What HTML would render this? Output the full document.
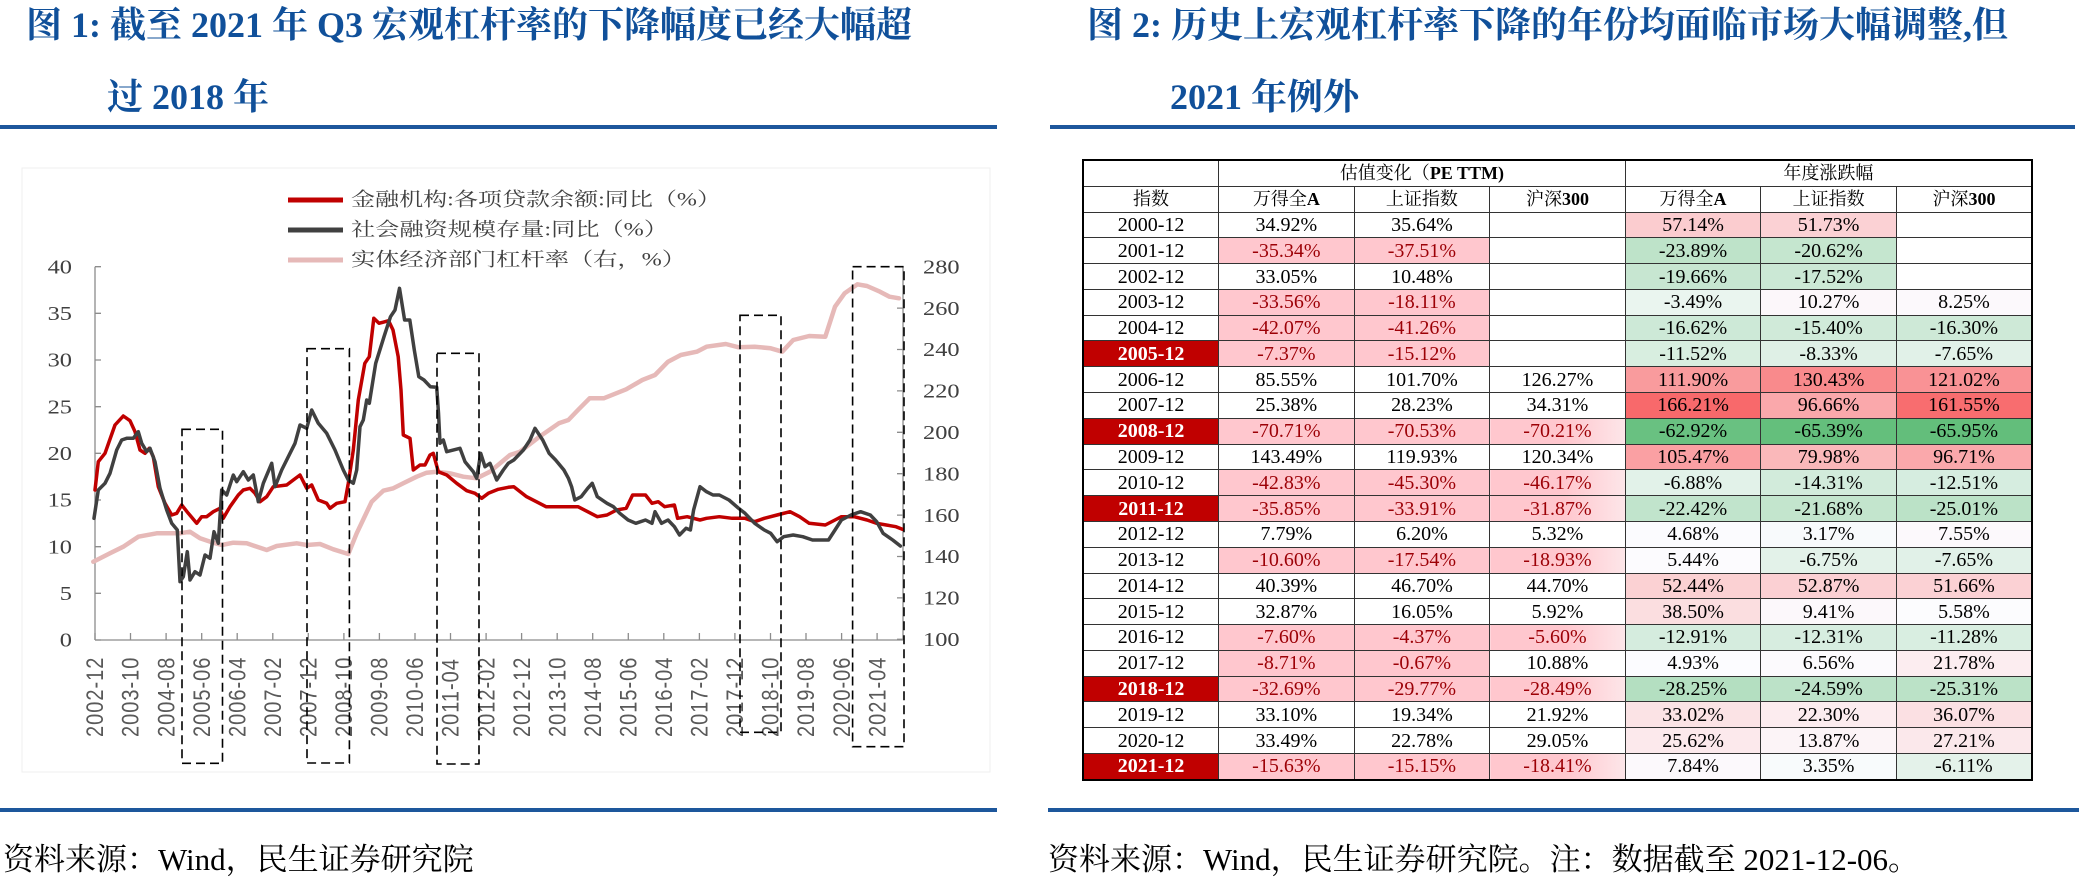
<!DOCTYPE html>
<html><head><meta charset="utf-8">
<style>
html,body{margin:0;padding:0;background:#fff;}
body{width:2079px;height:883px;position:relative;overflow:hidden;font-family:"Liberation Serif","Noto Serif CJK SC",serif;}
.t{position:absolute;white-space:nowrap;font-weight:bold;color:#10509a;font-size:36px;line-height:36px;font-family:"Liberation Serif","Noto Serif CJK SC",serif;}
.bl{position:absolute;background:#1d579c;height:4px;}
.ft{position:absolute;white-space:nowrap;font-size:31px;line-height:31px;color:#000;font-family:"Liberation Serif","Noto Serif CJK SC",serif;}
#tb{position:absolute;left:1082px;top:159px;width:951px;height:622px;border-collapse:collapse;table-layout:fixed;border:2px solid #000;}
#tb td{border:1px solid #333;padding:0;height:24px;text-align:center;vertical-align:middle;font-size:20px;line-height:20px;color:#000;white-space:nowrap;overflow:hidden;font-family:"Liberation Serif","Noto Serif CJK SC",serif;}
#tb tr.h td{font-size:18px;}
#tb td.hy{background:#c00000;color:#fff;font-weight:bold;}
#tb td.n{background:#ffc7ce;color:#9c0006;}
#tb td.ng{background:linear-gradient(to right,#ffc7ce 55%,#fde6e9 100%);color:#9c0006;}
</style></head>
<body>
<div class="t" style="left:26px;top:7px;">图 1: 截至 2021 年 Q3 宏观杠杆率的下降幅度已经大幅超</div>
<div class="t" style="left:107px;top:79px;">过 2018 年</div>
<div class="t" style="left:1087px;top:7px;">图 2: 历史上宏观杠杆率下降的年份均面临市场大幅调整,但</div>
<div class="t" style="left:1170px;top:79px;">2021 年例外</div>
<div class="bl" style="left:0;top:125px;width:997px;"></div>
<div class="bl" style="left:1050px;top:125px;width:1025px;"></div>
<div class="bl" style="left:0;top:808px;width:997px;"></div>
<div class="bl" style="left:1048px;top:808px;width:1031px;"></div>
<div class="ft" style="left:3px;top:844px;">资料来源：Wind，民生证券研究院</div>
<div class="ft" style="left:1048px;top:844px;">资料来源：Wind，民生证券研究院。注：数据截至 2021-12-06。</div>

<svg style="position:absolute;left:0;top:0;" width="1000" height="800" viewBox="0 0 1000 800">
<rect x="22" y="168" width="968" height="604" fill="none" stroke="#efefef" stroke-width="1"/>
<!-- legend -->
<line x1="288" y1="200" x2="343" y2="200" stroke="#c00000" stroke-width="5"/>
<line x1="288" y1="230" x2="343" y2="230" stroke="#404040" stroke-width="5"/>
<line x1="288" y1="260" x2="343" y2="260" stroke="#e6b9b8" stroke-width="5"/>
<g font-family="Liberation Serif, Noto Serif CJK SC, serif" font-size="19" fill="#404040" dominant-baseline="central">
<text x="351" y="200" textLength="370" lengthAdjust="spacingAndGlyphs">金融机构:各项贷款余额:同比（%）</text>
<text x="351" y="230" textLength="317" lengthAdjust="spacingAndGlyphs">社会融资规模存量:同比（%）</text>
<text x="351" y="260" textLength="335" lengthAdjust="spacingAndGlyphs">实体经济部门杠杆率（右，%）</text>
</g>
<!-- axes -->
<g stroke="#8c8c8c" stroke-width="1.3" fill="none">
<line x1="95" y1="266.7" x2="95" y2="640"/>
<line x1="903" y1="266.7" x2="903" y2="640"/>
<line x1="95" y1="640" x2="903" y2="640"/>
<path d="M95 640H101M95 593.3H101M95 546.7H101M95 500H101M95 453.3H101M95 406.7H101M95 360H101M95 313.3H101M95 266.7H101"/>
<path d="M897 639.3H903M897 597.9H903M897 556.5H903M897 515.1H903M897 473.7H903M897 432.3H903M897 390.9H903M897 349.5H903M897 308.1H903M897 266.7H903"/>
<path d="M95 633V640M130.5 633V640M166.1 633V640M201.7 633V640M237.2 633V640M272.8 633V640M308.3 633V640M343.9 633V640M379.4 633V640M415 633V640M450.5 633V640M486.1 633V640M521.6 633V640M557.2 633V640M592.7 633V640M628.3 633V640M663.8 633V640M699.4 633V640M734.9 633V640M770.5 633V640M806 633V640M841.6 633V640M877.1 633V640"/>
</g>
<!-- y labels -->
<g transform="scale(1.22,1)" font-family="Liberation Serif, serif" font-size="20" fill="#404040" dominant-baseline="central">
<g text-anchor="end">
<text x="59" y="640">0</text><text x="59" y="593.3">5</text><text x="59" y="546.7">10</text><text x="59" y="500">15</text><text x="59" y="453.3">20</text><text x="59" y="406.7">25</text><text x="59" y="360">30</text><text x="59" y="313.3">35</text><text x="59" y="266.7">40</text>
</g>
<g text-anchor="start">
<text x="756.6" y="639.3">100</text><text x="756.6" y="597.9">120</text><text x="756.6" y="556.5">140</text><text x="756.6" y="515.1">160</text><text x="756.6" y="473.7">180</text><text x="756.6" y="432.3">200</text><text x="756.6" y="390.9">220</text><text x="756.6" y="349.5">240</text><text x="756.6" y="308.1">260</text><text x="756.6" y="266.7">280</text>
</g>
</g>
<!-- x labels -->
<g font-family="Liberation Sans, sans-serif" font-size="20" fill="#595959" letter-spacing="1" dominant-baseline="central">
<text transform="translate(95,737) rotate(-90) scale(1,1.22)">2002-12</text>
<text transform="translate(130.5,737) rotate(-90) scale(1,1.22)">2003-10</text>
<text transform="translate(166.1,737) rotate(-90) scale(1,1.22)">2004-08</text>
<text transform="translate(201.7,737) rotate(-90) scale(1,1.22)">2005-06</text>
<text transform="translate(237.2,737) rotate(-90) scale(1,1.22)">2006-04</text>
<text transform="translate(272.8,737) rotate(-90) scale(1,1.22)">2007-02</text>
<text transform="translate(308.3,737) rotate(-90) scale(1,1.22)">2007-12</text>
<text transform="translate(343.9,737) rotate(-90) scale(1,1.22)">2008-10</text>
<text transform="translate(379.4,737) rotate(-90) scale(1,1.22)">2009-08</text>
<text transform="translate(415,737) rotate(-90) scale(1,1.22)">2010-06</text>
<text transform="translate(450.5,737) rotate(-90) scale(1,1.22)">2011-04</text>
<text transform="translate(486.1,737) rotate(-90) scale(1,1.22)">2012-02</text>
<text transform="translate(521.6,737) rotate(-90) scale(1,1.22)">2012-12</text>
<text transform="translate(557.2,737) rotate(-90) scale(1,1.22)">2013-10</text>
<text transform="translate(592.7,737) rotate(-90) scale(1,1.22)">2014-08</text>
<text transform="translate(628.3,737) rotate(-90) scale(1,1.22)">2015-06</text>
<text transform="translate(663.8,737) rotate(-90) scale(1,1.22)">2016-04</text>
<text transform="translate(699.4,737) rotate(-90) scale(1,1.22)">2017-02</text>
<text transform="translate(734.9,737) rotate(-90) scale(1,1.22)">2017-12</text>
<text transform="translate(770.5,737) rotate(-90) scale(1,1.22)">2018-10</text>
<text transform="translate(806,737) rotate(-90) scale(1,1.22)">2019-08</text>
<text transform="translate(841.6,737) rotate(-90) scale(1,1.22)">2020-06</text>
<text transform="translate(877.1,737) rotate(-90) scale(1,1.22)">2021-04</text>
</g>
<!-- series -->
<g fill="none" stroke-linejoin="round" stroke-linecap="round">
<polyline stroke="#e6b9b8" stroke-width="4.5" points="93.3,561.7 110,553.3 123.3,546.7 138.3,536.7 156.7,533.3 180,533.3 190,531.7 200,538.3 213.3,542.7 221.7,545 233.3,542.7 246.7,543.3 266.7,550 276.7,546 296.7,543.3 306.7,545 320,544 333.3,549.3 348.3,554 356.7,533.3 371.7,501.7 383.3,490.7 393.3,488.3 403.3,483.3 416.7,476.7 426.7,472.7 436.7,471.7 450,473.3 463.3,476.7 476.7,478.3 490,471.7 510,455 520,451.7 539.5,436.7 558.8,423.3 568.4,420 578,410 589.6,398.3 603.7,398.3 626.2,389.3 642.3,380 655,375 668,361.7 680.8,355 696.8,351.7 706.5,346.7 725.8,344 738.6,347.3 754.7,346.7 770.7,348.3 782.3,351.7 793.2,340 809.2,336 825.3,336.7 835,306.7 844.6,293.3 857.4,284.3 867,286 880,291.7 889.5,296.7 899,298.3"/>
<polyline stroke="#c00000" stroke-width="3.5" points="95,490 98.3,461.7 105,453.3 115,425 123.3,416 130,420.7 135,431.7 140,450 145,453.3 149.3,448.3 153.3,456.7 158.3,486.7 165,503.3 171.7,515 176.7,513.3 181.7,505 188.3,513.3 196.7,523.3 201.7,516.7 206.7,516.7 213.3,511.7 220,508.3 223.3,518.3 230,506.7 238.3,495 243.3,490 250,488.3 255,493.3 260,501.7 266.7,496.7 273.3,486.7 286.7,485 293.3,480 300,475 306.7,488.3 311.7,485 318.3,500 326.7,503.3 330,508.3 336.7,503.3 345,501.7 348.3,483.3 353.3,450 358.3,400 364.8,363.3 369.3,356.7 373.8,318.3 379,323.3 388.6,320.7 393,330 398.2,356.7 401,390 403.3,435 410,438.3 413.3,470 420,465 425,465 430,455 433.3,453.3 438.3,471.7 446.7,475 456.7,483.3 466.7,490.7 475,493.3 481.7,498.3 488.3,493.3 498.3,489.3 508.3,487.3 513.8,486.7 526.6,496.7 539.5,503.3 546,506.7 565.2,506.7 578,506.7 587.7,511.7 597.3,516.7 607,515 616.6,510 626.2,508.3 632.6,495 645.5,495 652,503.3 658.3,501.7 664.7,506.7 674.4,505 677.6,518.3 687.2,516.7 700,520 706.5,518.3 719.3,516.7 732.2,518.3 745,518.3 754.7,521.7 764.3,518.3 777.1,515 790,511.7 799.6,516.7 809.2,523.3 825.3,525 835,520 841.4,516.7 854.2,516.7 867,520 876.7,523.3 886.3,525 896,526.7 902.4,529.3"/>
<polyline stroke="#404040" stroke-width="3.5" points="94,518.3 98.3,490 105,483.3 110,473.3 116.7,450 121.7,440 126.7,438.3 133.3,438.3 138.3,431.7 141.7,443.3 146.7,451.7 150,448.3 155,461.7 160,488.3 166.7,510 171.7,523.3 177.3,530 180,581.7 183.3,576.7 187.3,551.7 190,580 195,571.7 200,575 205,555 210,558.3 214,531.7 218.3,543.3 221.7,490 226.7,495 233.3,475 236.7,481.7 243.3,471.7 248.3,480 253.3,475 258.3,501.7 263.3,483.3 271.7,463.3 275,486.7 281.7,470 290,453.3 295,443.3 300,425 306.7,428.3 311.7,410 318.3,423.3 326.7,433.3 335,450 343.3,470 348.3,480 353.3,483.3 356.7,470 360,426.7 363.3,420 366.7,400 369.3,403.3 375.7,363.3 384,336.7 390.5,316.7 395,310 399.5,288.3 404.6,320 409.8,320 414.3,350 418.8,376.7 424,380 430.3,386.7 436.7,387.3 438.5,413 440,443.3 443.3,440 446.7,451.7 460,448.3 465,461.7 473.3,471.7 476.7,478.3 480.7,453.3 485,466.7 490,463.3 496.7,480 503.3,470 508.3,463.3 513.8,460 523.4,450 530,440 535,428.3 542.7,440 549.1,453.3 555.6,460 563.9,470 568.4,478.3 571.6,486.7 574.8,500 581.2,496.7 587.7,488.3 592.2,483.3 597.3,496.7 607,503.3 613.4,506.7 619.8,513.3 628.1,520 635.8,523.3 645.5,520 652,523.3 655,511.7 661.5,523.3 668,520 674.4,526.7 679.5,535 686,528.3 690.4,530 693.6,510 700,486.7 706.5,491.7 713,495 719.3,495 729,500 738.6,508.3 745,513.3 754.7,523.3 764.3,530 770.7,533.3 777.1,541.7 783.6,536.7 793.2,535 802.8,536.7 812.5,540 828.5,540 835,530 841.4,520 851,515 860.6,511.7 870.3,515 876.7,521.7 883.1,533.3 892.7,540 900.4,546"/>
</g>
<!-- dashed boxes -->
<g fill="none" stroke="#000" stroke-width="1.6" stroke-dasharray="9,5">
<rect x="182" y="429.3" width="40.5" height="334"/>
<rect x="307" y="348.7" width="42.4" height="414.3"/>
<rect x="437" y="353.3" width="42" height="410.7"/>
<rect x="740" y="315.3" width="41" height="417"/>
<rect x="852.6" y="266.7" width="51.4" height="480"/>
</g>
</svg>

<table id="tb">
<colgroup><col><col><col><col><col><col><col></colgroup>
<tr class="h"><td></td><td colspan="3">估值变化（<b style="font-family:'Liberation Serif',serif;">PE TTM)</b></td><td colspan="3">年度涨跌幅</td></tr>
<tr class="h"><td>指数</td><td>万得全<b>A</b></td><td>上证指数</td><td>沪深<b>300</b></td><td>万得全<b>A</b></td><td>上证指数</td><td>沪深<b>300</b></td></tr>
<tr><td>2000-12</td><td>34.92%</td><td>35.64%</td><td></td><td style="background:#fbcccf">57.14%</td><td style="background:#fbd1d4">51.73%</td><td></td></tr>
<tr><td>2001-12</td><td class="n">-35.34%</td><td class="n">-37.51%</td><td></td><td style="background:#bee3c9">-23.89%</td><td style="background:#c5e6cf">-20.62%</td><td></td></tr>
<tr><td>2002-12</td><td>33.05%</td><td>10.48%</td><td></td><td style="background:#c7e6d1">-19.66%</td><td style="background:#cbe8d5">-17.52%</td><td></td></tr>
<tr><td>2003-12</td><td class="n">-33.56%</td><td class="n">-18.11%</td><td></td><td style="background:#eaf5ef">-3.49%</td><td style="background:#fcf7fa">10.27%</td><td style="background:#fcf9fc">8.25%</td></tr>
<tr><td>2004-12</td><td class="n">-42.07%</td><td class="n">-41.26%</td><td></td><td style="background:#cde9d7">-16.62%</td><td style="background:#d0ead9">-15.40%</td><td style="background:#cee9d7">-16.30%</td></tr>
<tr><td class="hy">2005-12</td><td class="n">-7.37%</td><td class="n">-15.12%</td><td></td><td style="background:#d8eee0">-11.52%</td><td style="background:#dff0e6">-8.33%</td><td style="background:#e1f1e8">-7.65%</td></tr>
<tr><td>2006-12</td><td>85.55%</td><td>101.70%</td><td>126.27%</td><td style="background:#f99b9d">111.90%</td><td style="background:#f98a8c">130.43%</td><td style="background:#f99295">121.02%</td></tr>
<tr><td>2007-12</td><td>25.38%</td><td>28.23%</td><td>34.31%</td><td style="background:#f8696b">166.21%</td><td style="background:#faa8ab">96.66%</td><td style="background:#f86d6f">161.55%</td></tr>
<tr><td class="hy">2008-12</td><td class="n">-70.71%</td><td class="n">-70.53%</td><td class="ng">-70.21%</td><td style="background:#69c181">-62.92%</td><td style="background:#64bf7c">-65.39%</td><td style="background:#63be7b">-65.95%</td></tr>
<tr><td>2009-12</td><td>143.49%</td><td>119.93%</td><td>120.34%</td><td style="background:#faa0a3">105.47%</td><td style="background:#fab8ba">79.98%</td><td style="background:#faa8ab">96.71%</td></tr>
<tr><td>2010-12</td><td class="n">-42.83%</td><td class="n">-45.30%</td><td class="ng">-46.17%</td><td style="background:#e2f2e9">-6.88%</td><td style="background:#d2ebdb">-14.31%</td><td style="background:#d6ede0">-12.51%</td></tr>
<tr><td class="hy">2011-12</td><td class="n">-35.85%</td><td class="n">-33.91%</td><td class="ng">-31.87%</td><td style="background:#c1e4cc">-22.42%</td><td style="background:#c3e5cd">-21.68%</td><td style="background:#bbe2c7">-25.01%</td></tr>
<tr><td>2012-12</td><td>7.79%</td><td>6.20%</td><td>5.32%</td><td style="background:#fbfbfe">4.68%</td><td style="background:#f8fafc">3.17%</td><td style="background:#fcf9fc">7.55%</td></tr>
<tr><td>2013-12</td><td class="n">-10.60%</td><td class="n">-17.54%</td><td class="ng">-18.93%</td><td style="background:#fcfbfe">5.44%</td><td style="background:#e3f2e9">-6.75%</td><td style="background:#e1f1e8">-7.65%</td></tr>
<tr><td>2014-12</td><td>40.39%</td><td>46.70%</td><td>44.70%</td><td style="background:#fbd1d3">52.44%</td><td style="background:#fbd0d3">52.87%</td><td style="background:#fbd1d4">51.66%</td></tr>
<tr><td>2015-12</td><td>32.87%</td><td>16.05%</td><td>5.92%</td><td style="background:#fbdee0">38.50%</td><td style="background:#fcf8fb">9.41%</td><td style="background:#fcfcfe">5.58%</td></tr>
<tr><td>2016-12</td><td class="n">-7.60%</td><td class="n">-4.37%</td><td class="ng">-5.60%</td><td style="background:#d5ecde">-12.91%</td><td style="background:#d7ede0">-12.31%</td><td style="background:#d9eee1">-11.28%</td></tr>
<tr><td>2017-12</td><td class="n">-8.71%</td><td class="n">-0.67%</td><td>10.88%</td><td style="background:#fcfcff">4.93%</td><td style="background:#fcfafd">6.56%</td><td style="background:#fcedf0">21.78%</td></tr>
<tr><td class="hy">2018-12</td><td class="n">-32.69%</td><td class="n">-29.77%</td><td class="ng">-28.49%</td><td style="background:#b4dfc1">-28.25%</td><td style="background:#bce2c8">-24.59%</td><td style="background:#bbe2c7">-25.31%</td></tr>
<tr><td>2019-12</td><td>33.10%</td><td>19.34%</td><td>21.92%</td><td style="background:#fbe3e5">33.02%</td><td style="background:#fcecef">22.30%</td><td style="background:#fbe0e3">36.07%</td></tr>
<tr><td>2020-12</td><td>33.49%</td><td>22.78%</td><td>29.05%</td><td style="background:#fce9ec">25.62%</td><td style="background:#fcf4f7">13.87%</td><td style="background:#fbe8eb">27.21%</td></tr>
<tr><td class="hy">2021-12</td><td class="n">-15.63%</td><td class="n">-15.15%</td><td class="ng">-18.41%</td><td style="background:#fcf9fc">7.84%</td><td style="background:#f8fbfc">3.35%</td><td style="background:#e4f2ea">-6.11%</td></tr>
</table>
</body></html>
